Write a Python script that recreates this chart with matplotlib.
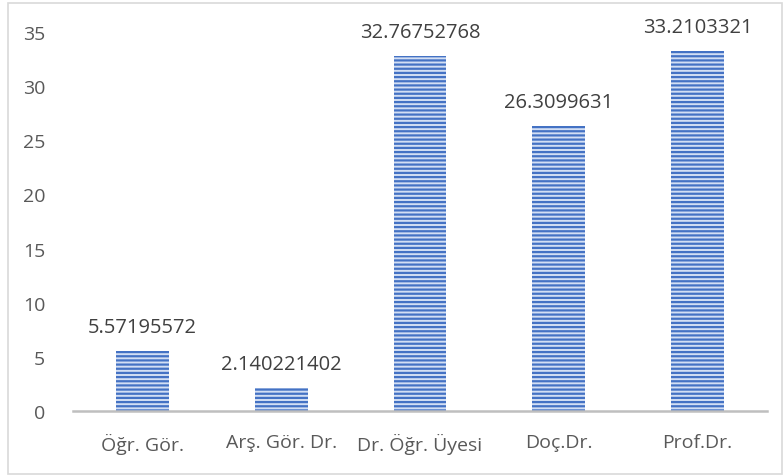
import matplotlib
matplotlib.use('Agg')
import matplotlib.pyplot as plt
from matplotlib.patches import Rectangle

categories = ['Öğr. Gör.', 'Arş. Gör. Dr.', 'Dr. Öğr. Üyesi', 'Doç.Dr.', 'Prof.Dr.']
values = [5.57195572, 2.140221402, 32.76752768, 26.3099631, 33.2103321]
labels = ['5.57195572', '2.140221402', '32.76752768', '26.3099631', '33.2103321']
yticks = [0, 5, 10, 15, 20, 25, 30, 35]

plt.rcParams['font.family'] = ['Open Sans', 'DejaVu Sans']
plt.rcParams['hatch.linewidth'] = 1.6

fig = plt.figure(figsize=(7.83, 4.77), dpi=100)
ax = fig.add_axes([73/783, 1-412/477, 694/783, 379/477])

x = range(len(categories))
bars = ax.bar(x, values, width=0.38, color='#d3dff4', edgecolor='#4472C4',
              linewidth=0, hatch='----')

for b, lab in zip(bars, labels):
    ax.annotate(lab, (b.get_x() + b.get_width()/2, b.get_height()),
                xytext=(0, 10), textcoords='offset points', ha='center', va='bottom',
                fontsize=14.5, color='#404040', annotation_clip=False)

ax.set_xlim(-0.5, len(categories) - 0.5)
ax.set_ylim(0, 35)
ax.set_yticks(yticks)
ax.set_xticks(list(x))
ax.set_xticklabels(categories)
ax.tick_params(axis='both', length=0, labelsize=14, colors='#595959')
ax.tick_params(axis='x', pad=16)
ax.tick_params(axis='y', pad=20)
for s in ['top', 'right', 'left']:
    ax.spines[s].set_visible(False)
ax.spines['bottom'].set_color('#bfbfbf')
ax.spines['bottom'].set_linewidth(1.8)

fig.patches.append(Rectangle((8/783, 2/477), 774/783, 471/477, transform=fig.transFigure,
                             fill=False, edgecolor='#d9d9d9', linewidth=1.2))

fig.savefig('out.png', dpi=100)
